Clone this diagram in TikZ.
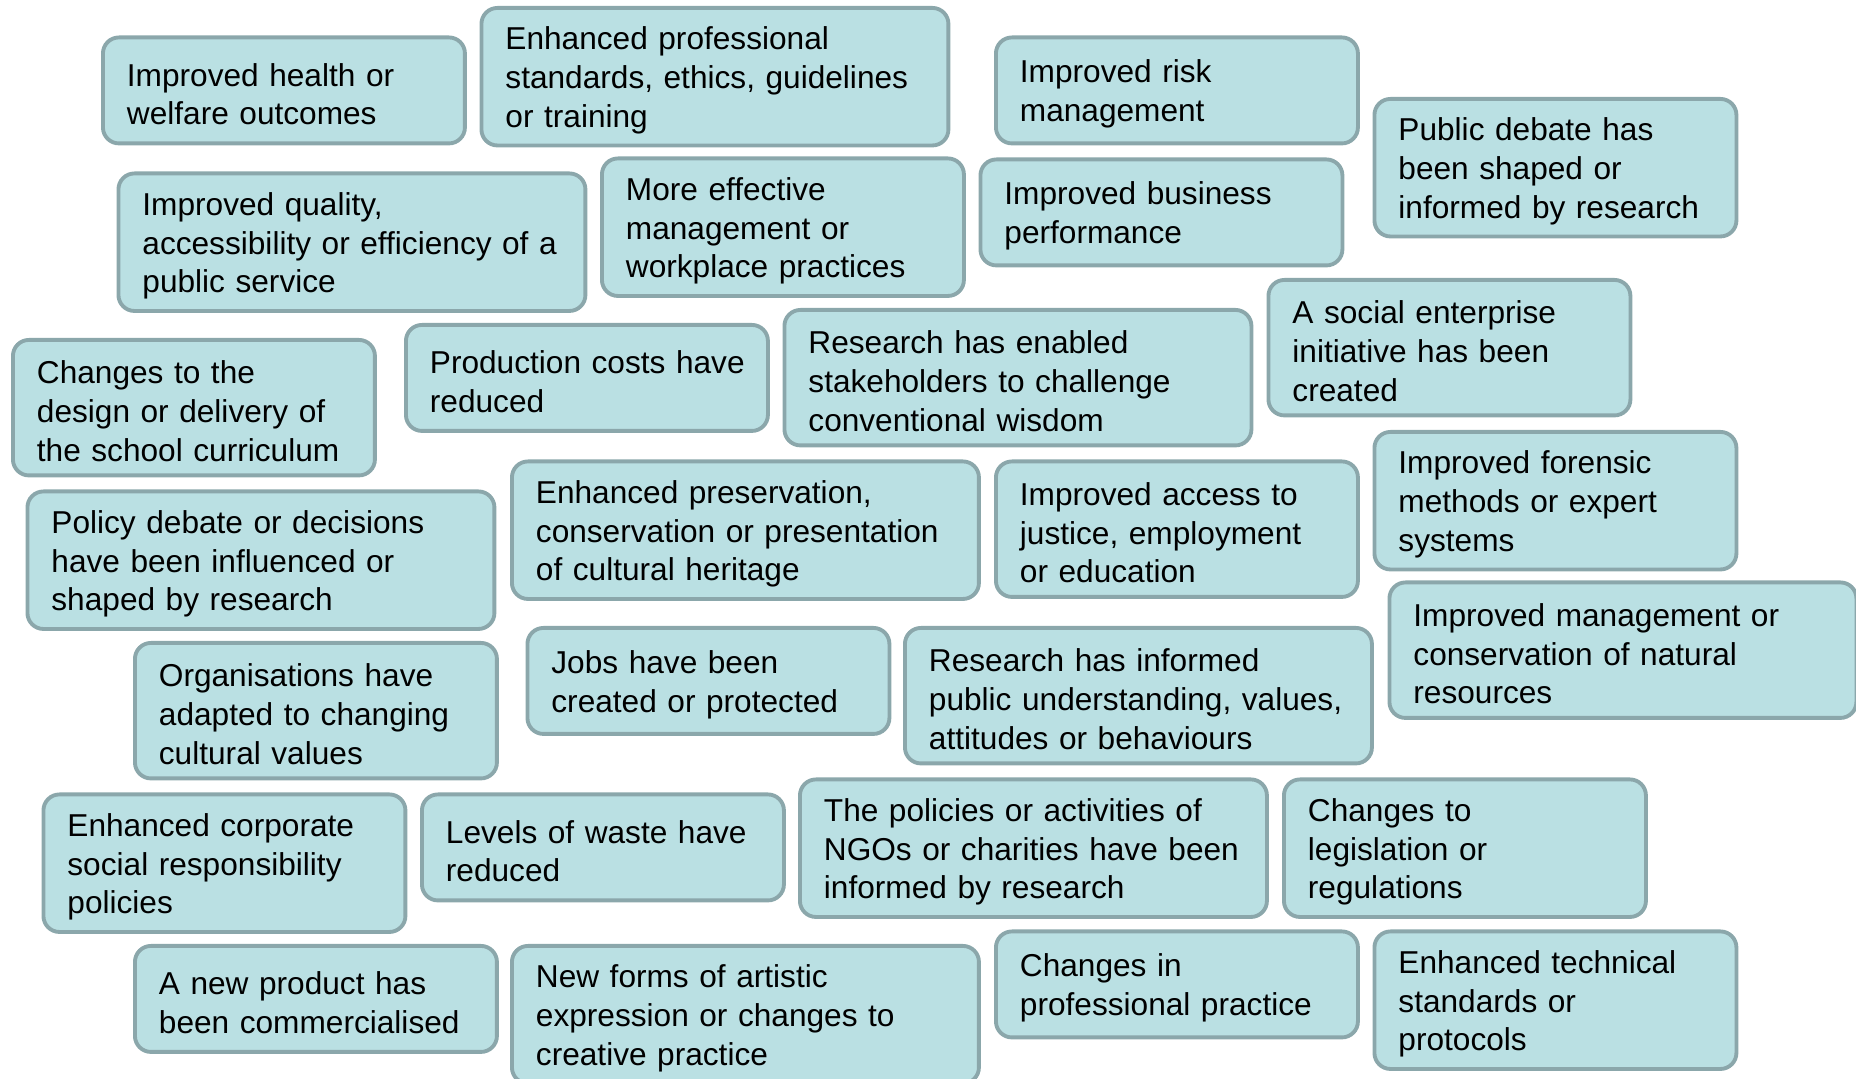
\documentclass[tikz,border=0pt]{standalone}
\usepackage{fontspec}
\setmainfont{Liberation Sans}
\usepackage{xcolor}
\usepackage{tikz}

\definecolor{boxfill}{HTML}{BAE0E3}
\definecolor{boxline}{HTML}{8BA7AB}

\begin{document}
\begin{tikzpicture}[x = 0.1mm, y = -0.1mm,
	outcome/.style = {draw = boxline, fill = boxfill, line width = 1.1pt, rounded corners = 1.6mm, anchor = north west, align = left, inner xsep = 2.4mm, font = \fontsize{9}{11}\selectfont,
		execute at begin node = {\rightskip = 0pt plus 1fil minus 3mm\rule{0pt}{8.6pt}}},
	slim/.style = {outcome, minimum width = 36.2mm, text width = 31.4mm},
	broad/.style = {outcome, minimum width = 46.7mm, text width = 41.9mm},
	twoline/.style = {minimum height = 10.6mm},
	threeline/.style = {minimum height = 13.55mm}]
	\useasboundingbox (0,0) rectangle (1856,1079);

	% top rows
	\node [slim, twoline] (health) at (101,35.5) {Improved health or\\welfare outcomes};
	\node [broad, threeline] (profstd) at (479.5,6) {Enhanced professional\\standards, ethics, guidelines\\or training};
	\node [slim, twoline] (risk) at (994,35.5) {Improved risk\\management};
	\node [slim, threeline] (pubdebate) at (1372.5,97) {Public debate has\\been shaped or\\informed by research};
	\node [broad, threeline] (quality) at (116.5,171.5) {Improved quality,\\accessibility or efficiency of a\\public service};
	\node [slim, threeline] (workplace) at (600,156.5) {More effective\\management or\\workplace practices};
	\node [slim, twoline] (business) at (978.5,157.5) {Improved business\\performance};
	\node [slim, threeline] (socent) at (1266.5,278) {A social enterprise\\initiative has been\\created};
	\node [slim, threeline] (curriculum) at (11,338) {Changes to the\\design or delivery of\\the school curriculum};
	\node [slim, twoline] (prodcost) at (404,323) {Production costs have\\reduced};
	\node [broad, threeline] (wisdom) at (782.5,308) {Research has enabled\\stakeholders to challenge\\conventional wisdom};

	% middle rows
	\node [slim, threeline] (forensic) at (1372.5,430) {Improved forensic\\methods or expert\\systems};
	\node [broad, threeline] (policy) at (25.5,489.5) {Policy debate or decisions\\have been influenced or\\shaped by research};
	\node [broad, threeline] (heritage) at (510,459.5) {Enhanced preservation,\\conservation or presentation\\of cultural heritage};
	\node [slim, threeline] (justice) at (994,459.5) {Improved access to\\justice, employment\\or education};
	\node [broad, threeline] (natural) at (1387.5,580.5) {Improved management or\\conservation of natural\\resources};
	\node [slim, threeline] (culture) at (133,641) {Organisations have\\adapted to changing\\cultural values};
	\node [slim, twoline] (jobs) at (525.5,626) {Jobs have been\\created or protected};
	\node [broad, threeline] (understanding) at (903,626) {Research has informed\\public understanding, values,\\attitudes or behaviours};

	% bottom rows
	\node [slim, threeline] (csr) at (41.5,792.5) {Enhanced corporate\\social responsibility\\policies};
	\node [slim, twoline] (waste) at (420,792.5) {Levels of waste have\\reduced};
	\node [broad, threeline] (ngo) at (798,777.5) {The policies or activities of\\NGOs or charities have been\\informed by research};
	\node [slim, threeline] (legislation) at (1282,777.5) {Changes to\\legislation or\\regulations};
	\node [slim, twoline] (product) at (133,944) {A new product has\\been commercialised};
	\node [broad, threeline] (artistic) at (510,944) {New forms of artistic\\expression or changes to\\creative practice};
	\node [slim, twoline] (practice) at (994,929.5) {Changes in\\professional practice};
	\node [slim, threeline] (technical) at (1372.5,929.5) {Enhanced technical\\standards or\\protocols};
\end{tikzpicture}
\end{document}
